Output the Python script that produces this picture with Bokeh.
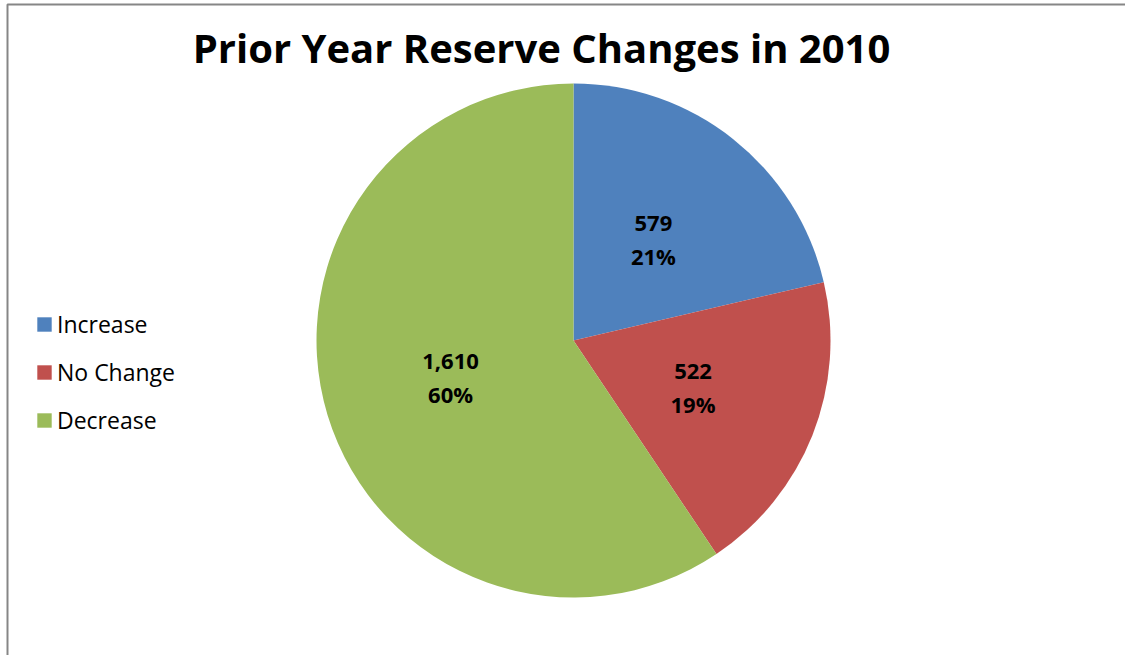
import math
from bokeh.plotting import figure
from bokeh.models import ColumnDataSource, Range1d, Legend, LegendItem, BoxAnnotation, Label
from bokeh.embed import file_html
from bokeh.resources import INLINE

title_text = "Prior Year Reserve Changes in 2010"
categories = ["Increase", "No Change", "Decrease"]
values = [579, 522, 1610]
pct_labels = ["21%", "19%", "60%"]
colors = ["#4F81BD", "#C0504D", "#9BBB59"]

W, H = 1125, 655
cx, cy, R = 573, H - 340, 257

total = sum(values)
starts, ends, lx, ly, vlab = [], [], [], [], []
acc = 0.0
for v in values:
    a0 = math.pi / 2 - 2 * math.pi * acc / total
    acc += v
    a1 = math.pi / 2 - 2 * math.pi * acc / total
    starts.append(a0)
    ends.append(a1)
    mid = (a0 + a1) / 2
    lx.append(cx + 0.5 * R * math.cos(mid))
    ly.append(cy + 0.5 * R * math.sin(mid))
    vlab.append(f"{v:,}")

src = ColumnDataSource(dict(cat=categories, val=values, color=colors,
                            start=starts, end=ends, lx=lx, ly=ly,
                            vlab=vlab, plab=pct_labels))

p = figure(width=W, height=H, output_backend="svg", toolbar_location=None,
           x_range=Range1d(0, W), y_range=Range1d(0, H), min_border=0,
           x_axis_location=None, y_axis_location=None)
p.grid.visible = False
p.outline_line_color = None
p.background_fill_color = "white"
p.border_fill_color = "white"

# chart border (partially visible)
p.add_layout(BoxAnnotation(left=7, right=W + 20, top=H - 4, bottom=-20,
                           fill_alpha=0, line_color="#868686", line_alpha=1,
                           line_width=2))

r = p.wedge(x=cx, y=cy, radius=R, radius_units="screen",
            start_angle="start", end_angle="end", direction="clock",
            fill_color="color", line_color=None, source=src)

p.text(x="lx", y="ly", text="vlab", source=src, text_font_size="22px",
       text_font_style="bold", text_align="center", text_baseline="middle",
       text_color="black", y_offset=-16, text_font={"value": "Open Sans"})
p.text(x="lx", y="ly", text="plab", source=src, text_font_size="22px",
       text_font_style="bold", text_align="center", text_baseline="middle",
       text_color="black", y_offset=16, text_font={"value": "Open Sans"})

p.add_layout(Label(x=541, y=H - 47, text=title_text, text_font="Open Sans",
                   text_font_size="40px", text_font_style="bold",
                   text_align="center", text_baseline="middle", text_color="black"))

items = [LegendItem(label=c, renderers=[r], index=i) for i, c in enumerate(categories)]
legend = Legend(items=items, location=(35, H - 436), orientation="vertical",
                glyph_width=18, glyph_height=18, label_height=18,
                spacing=16, padding=0, margin=0, label_standoff=4,
                label_text_font="Open Sans", label_text_font_size="23px",
                label_text_color="black",
                border_line_color=None, background_fill_alpha=0)
p.add_layout(legend, "center")

open("out.html", "w").write(file_html(p, INLINE))
